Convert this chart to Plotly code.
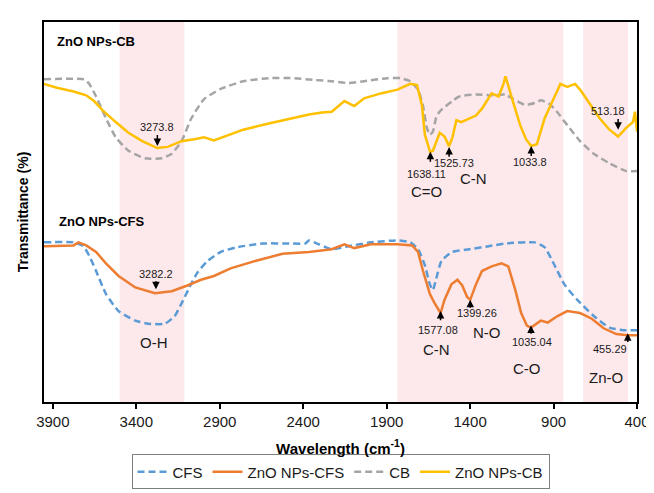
import plotly.graph_objects as go

# ---------------- data (wavenumber cm-1, relative transmittance) ----------------
cfs_x = [3953, 3776, 3717, 3682, 3641, 3582, 3506, 3406, 3329, 3229, 3170, 3129, 3082, 3035, 2976,
         2894, 2800, 2641, 2482, 2388, 2365, 2306, 2229, 2129, 1994, 1835, 1759, 1712, 1671, 1641,
         1623, 1606, 1571, 1506, 1406, 1288, 1188, 1012, 953, 894, 835, 759, 659, 565, 482, 400]
cfs_y = [41.8, 41.8, 40.8, 38.3, 34.3, 28.3, 23.8, 21.3, 20.5, 20.5, 22.5, 25.8, 30, 33.8, 36.8,
         39.3, 40.5, 41.5, 41.5, 41.5, 42.3, 41.3, 40, 40.8, 41.8, 42.3, 41.8, 40, 35.8, 30.8,
         29.3, 31.8, 37, 39.3, 40, 40.8, 41.5, 41.8, 40.5, 35.8, 30.8, 26.8, 22.5, 19.5, 18.8, 18.8]

zno_cfs_x = [3953, 3776, 3747, 3700, 3641, 3582, 3506, 3406, 3288, 3188, 3094, 3012, 2935, 2835,
             2682, 2524, 2365, 2229, 2153, 2094, 1994, 1835, 1747, 1712, 1682, 1641, 1612, 1577,
             1553, 1512, 1476, 1447, 1418, 1399, 1365, 1329, 1271, 1212, 1171, 1129, 1094, 1060,
             1035, 976, 935, 876, 818, 741, 671, 600, 524, 455, 400]
zno_cfs_y = [40.8, 41, 41.8, 41, 39.3, 36.3, 33, 30, 28.5, 29, 30.5, 32, 33, 35,
             37, 38.8, 39.3, 40, 41.3, 40.3, 41.3, 41.3, 41, 39.3, 34.3, 28.3, 25.8, 23.3,
             26.8, 30.8, 32, 30.5, 27.5, 26.8, 30.8, 34.3, 35.5, 36.3, 35.5, 29.3, 23.3, 20,
             19.5, 21.3, 20.8, 22.5, 23.8, 23.3, 21.8, 19.3, 17.8, 17.5, 17.5]

cb_x = [3953, 3712, 3682, 3641, 3582, 3523, 3447, 3347, 3247, 3188, 3129, 3070, 2994, 2894, 2759,
        2600, 2465, 2329, 2229, 2129, 2035, 1894, 1818, 1759, 1712, 1682, 1659, 1641, 1623, 1600,
        1565, 1506, 1465, 1365, 1271, 1188, 1141, 1071, 1012, 976, 923, 876, 818, 741, 659, 565,
        465, 400]
cb_y = [84.5, 84.5, 83.3, 80, 74.3, 69.3, 65.8, 63.8, 63.8, 65, 68.3, 74.3, 79.3, 82, 84,
        84.8, 84.8, 84.3, 84, 83.5, 84.0, 84.8, 84.8, 84, 81.8, 77.5, 71.8, 70, 70.8, 75,
        76.8, 78.8, 80, 80.5, 80.3, 80.5, 79.3, 77.8, 78.3, 79, 78, 75.8, 72.5, 68.3, 65, 62.5,
        60.5, 60.5]

zno_cb_x = [3953, 3876, 3776, 3700, 3653, 3600, 3523, 3447, 3364, 3274, 3212, 3129, 3053, 2994,
            2935, 2876, 2759, 2600, 2465, 2365, 2288, 2229, 2153, 2094, 2035, 1935, 1835, 1759,
            1718, 1688, 1671, 1640, 1623, 1582, 1553, 1526, 1506, 1482, 1453, 1406, 1365, 1329,
            1271, 1229, 1200, 1188, 1171, 1141, 1100, 1065, 1034, 1000, 953, 894, 859, 818, 771,
            741, 682, 624, 565, 513, 465, 424, 412, 400]
zno_cb_y = [83.3, 82.3, 81.3, 80.3, 78.8, 76.3, 73.3, 70.5, 68.3, 66.5, 66.8, 68.3, 68.8, 69.3,
            68.5, 69.5, 71.3, 73, 74.3, 75.3, 75.8, 76, 78.8, 77.5, 79.5, 80.8, 81.8, 83.3,
            83, 77.5, 70, 65.5, 65.8, 70.5, 69.5, 67, 69.3, 73.8, 73.3, 74.3, 75, 76.8,
            80.8, 80, 83.3, 85.3, 83, 78.3, 72.5, 68.8, 67, 67.5, 74.3, 80, 83.3, 82.5, 83.3,
            81.8, 78, 74.3, 71.3, 69.5, 71.8, 73.3, 76, 70.8]

x_ticks = [3900, 3400, 2900, 2400, 1900, 1400, 900, 400]

# shaded band limits (cm-1)
bands = [(3500, 3112), (1835, 841), (723, 453)]

FONT = "Liberation Sans, Arial, sans-serif"

fig = go.Figure()
series = [
    ("CFS", cfs_x, cfs_y, "#5B9BD5", "7px,4px", "spline"),
    ("ZnO NPs-CFS", zno_cfs_x, zno_cfs_y, "#ED7D31", "solid", "linear"),
    ("CB", cb_x, cb_y, "#A5A5A5", "7px,4px", "spline"),
    ("ZnO NPs-CB", zno_cb_x, zno_cb_y, "#FFC000", "solid", "linear"),
]
for name, xs, ys, col, dash, shape in series:
    fig.add_trace(go.Scatter(
        x=xs, y=ys, name=name, mode="lines",
        line=dict(color=col, width=2.5, dash=dash, shape=shape,
                  smoothing=0.5 if shape == "spline" else None),
    ))

for x0, x1 in bands:
    fig.add_shape(type="rect", xref="x", yref="paper", x0=x0, x1=x1, y0=0, y1=1,
                  fillcolor="#FDE8EB", line=dict(width=0), layer="below")

annotations = []
# peak arrows: (head x, head y, tail y)
arrows = [
    (3273.8, 67, 70.3), (1638.11, 65.5, 62.5), (1525.73, 66.8, 63.8), (1033.8, 67, 64),
    (513.18, 71.3, 74.5), (3282.2, 29.5, 32), (1577.08, 23.8, 21), (1399.26, 26.8, 24.3),
    (1035.04, 20, 17.5), (455.29, 18, 15.3),
]
for hx, hy, ty in arrows:
    annotations.append(dict(x=hx, y=hy, ax=hx, ay=ty, xref="x", yref="y", axref="x", ayref="y",
                            text="", showarrow=True, arrowhead=2, arrowsize=1, arrowwidth=1.5,
                            arrowcolor="black", standoff=0, startstandoff=0))

# peak value labels: (text, x, y)
peak_labels = [
    ("3273.8", 3274, 72), ("1638.11", 1659, 59.8), ("1525.73", 1494, 62.5), ("1033.8", 1041, 62.8),
    ("513.18", 576, 76.3), ("3282.2", 3282, 33.5), ("1577.08", 1594, 18.8), ("1399.26", 1359, 23.3),
    ("1035.04", 1029, 15.8), ("455.29", 559, 13.8),
]
for t, x, y in peak_labels:
    annotations.append(dict(x=x, y=y, text=t, showarrow=False, xref="x", yref="y",
                            font=dict(family=FONT, size=11, color="#1a1a1a")))

group_labels = [
    ("C=O", 1659, 55), ("C-N", 1382, 58.5), ("O-H", 3294, 15.5), ("C-N", 1600, 13.8),
    ("N-O", 1300, 18.3), ("C-O", 1059, 8.8), ("Zn-O", 588, 6.3),
]
for t, x, y in group_labels:
    annotations.append(dict(x=x, y=y, text=t, showarrow=False, xref="x", yref="y",
                            font=dict(family=FONT, size=15, color="#1a1a1a")))

panel_titles = [("ZnO NPs-CB", 3888, 94.3), ("ZnO NPs-CFS", 3876, 47.3)]
for t, x, y in panel_titles:
    annotations.append(dict(x=x, y=y, text="<b>" + t + "</b>", showarrow=False, xref="x", yref="y",
                            xanchor="left", font=dict(family=FONT, size=13, color="black")))

fig.update_layout(
    width=654, height=493,
    margin=dict(l=36, r=13, t=12, b=83),
    paper_bgcolor="white", plot_bgcolor="white",
    font=dict(family=FONT, color="#1a1a1a"),
    annotations=annotations,
    showlegend=True,
    legend=dict(orientation="h", x=0.5, xanchor="center", y=-0.138, yanchor="top",
                bordercolor="#7f7f7f", borderwidth=1, font=dict(family=FONT, size=15, color="#1a1a1a"),
                itemwidth=30, tracegroupgap=0),
    xaxis=dict(range=[3953, 400], autorange=False, tickmode="array", tickvals=x_ticks,
               ticktext=[str(v) for v in x_ticks], ticks="outside", ticklen=5, tickwidth=2,
               tickcolor="black", showline=True, linecolor="black", linewidth=2, mirror=True,
               showgrid=False, zeroline=False, tickfont=dict(size=15, family=FONT, color="#1a1a1a"),
               title=dict(text="<b>Wavelength (cm<sup>-1</sup>)</b>", standoff=14,
                          font=dict(size=15, family=FONT, color="black"))),
    yaxis=dict(range=[0, 99.5], autorange=False, showticklabels=False, ticks="",
               showline=True, linecolor="black", linewidth=2, mirror=True, showgrid=False,
               zeroline=False,
               title=dict(text="<b>Transmittance (%)</b>", standoff=10,
                          font=dict(size=14, family=FONT, color="black"))),
)

fig.write_html("out.html")
